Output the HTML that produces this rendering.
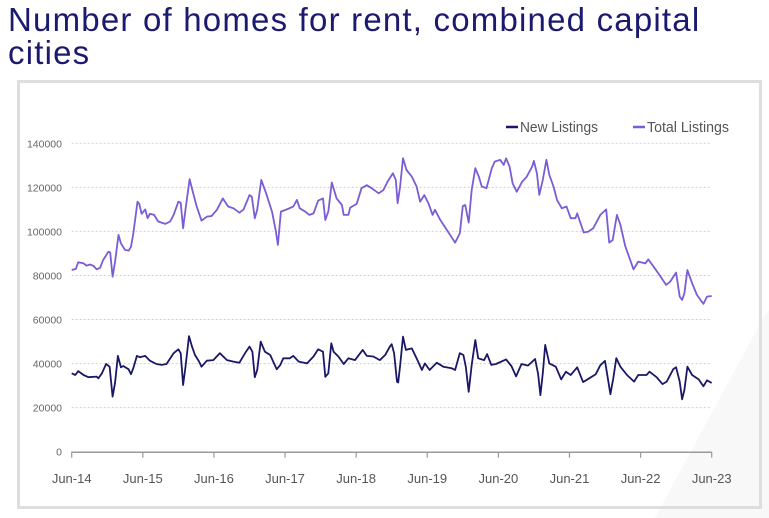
<!DOCTYPE html>
<html><head><meta charset="utf-8"><style>
body{margin:0;background:#fff;width:769px;height:518px;overflow:hidden;font-family:"Liberation Sans",sans-serif}
#title{position:absolute;left:8px;top:3px;font-size:33px;line-height:33px;color:#1c1a6e;letter-spacing:1.2px}
svg{position:absolute;left:0;top:0}
</style></head><body>
<svg id="chart" width="769" height="518">
<polygon points="763,318 769,310 769,518 655,518" fill="#f8f8f8"/>
<rect x="18.5" y="81.5" width="742" height="426" fill="none" stroke="#dedede" stroke-width="3"/>
<g id="grid"></g><g id="axes"></g><g id="series"></g>
<g>
<line x1="506" y1="127" x2="518" y2="127" stroke="#1a1866" stroke-width="2.5"/>
<text x="520" y="132" font-size="15" fill="#555" textLength="78" lengthAdjust="spacingAndGlyphs">New Listings</text>
<line x1="633" y1="127" x2="645" y2="127" stroke="#7b5cd6" stroke-width="2.5"/>
<text x="647" y="132" font-size="15" fill="#555" textLength="82" lengthAdjust="spacingAndGlyphs">Total Listings</text>
</g>
</svg>
<div id="title">Number of homes for rent, combined capital<br>cities</div>
<script>
const xTickLabels=["Jun-14","Jun-15","Jun-16","Jun-17","Jun-18","Jun-19","Jun-20","Jun-21","Jun-22","Jun-23"];
const yTicks=[0,20000,40000,60000,80000,100000,120000,140000];
// months since Jun-2014
const totalMonths=[0,0.7,1.1,2.0,2.5,3.1,3.7,4.2,4.8,5.3,6.2,6.5,6.9,7.3,7.9,8.3,9.0,9.6,10.0,10.4,11.1,11.4,11.8,12.4,12.8,13.2,13.9,14.6,15.8,16.6,17.2,18.0,18.4,18.8,19.2,19.9,20.5,21.1,21.9,22.8,23.6,24.5,25.5,26.4,27.3,28.3,29.0,30.0,30.4,30.9,31.3,32.0,32.8,33.8,34.4,34.8,35.3,36.3,37.4,38.0,38.5,39.4,40.1,40.8,41.6,42.4,42.8,43.3,43.9,44.7,45.6,45.9,46.7,47.0,48.1,48.9,49.8,50.6,51.8,52.6,53.4,54.2,54.7,55.0,55.4,55.9,56.5,57.4,58.2,58.8,59.5,60.2,60.9,61.3,62.2,63.3,64.7,65.5,66.0,66.4,67.0,67.5,68.1,68.7,69.2,70.0,70.9,71.4,72.3,72.9,73.3,73.9,74.4,75.1,76.0,76.8,77.7,78.0,78.5,78.9,79.5,80.1,80.6,81.3,81.9,82.7,83.5,84.2,85.0,85.3,86.4,87.2,88.0,89.2,90.2,90.7,91.3,92.0,92.6,93.4,94.8,95.6,96.8,97.3,98.2,99.3,100.3,101.0,102.0,102.6,103.0,103.4,103.9,104.7,105.5,106.6,107.2,108.0];
const totalValues=[82.5,83,86,85.5,84.5,85,84.3,82.8,83.5,87,90.8,90.4,79.5,86,98.4,94.6,91.6,91.3,93,99,113.5,112.5,108,110,106,108,107.5,104.5,103.4,104.5,107.5,113.5,113,101.4,110,123.7,117.3,111.3,104.9,106.7,107,109.8,115,111.3,110.5,108.5,110,116.5,115.8,106,109.8,123.4,117.3,109,100.7,93.9,109,110,111.3,114.3,110.5,109,107.5,108.2,114,115,105.2,109,122.2,115,112,107.5,107.5,110.8,112.5,119.6,121,119.6,117.3,118.8,123,126.4,123.4,112.8,120,133.2,127.9,124.9,120.4,113.5,116.5,112.8,107.5,109.8,105.2,100.7,94.9,99.1,111.5,112,104,118.8,128.7,124.9,120.4,119.6,128.7,131.7,132.5,130.2,133.2,129.4,121.9,118,122.5,124.9,129.4,132,126.4,116.6,123.4,132.5,125.7,120.4,114.3,110.5,111.3,106,106,108.2,99.5,99.9,101.4,107.5,110,94.9,96.1,107.5,103,93.4,82.8,86.3,85.5,87.3,84,79.8,75.7,77.2,81.3,70.4,68.9,71.9,82.5,76.5,71.2,67.1,70.4,70.7];
const newMonths=[0,0.6,1.1,2.0,2.8,4.2,4.5,5.1,5.8,6.4,6.9,7.3,7.8,8.3,8.7,9.6,10.0,10.4,11.0,11.5,12.4,13.2,14.3,15.2,16.0,17.2,18.0,18.4,18.8,19.2,19.8,20.3,20.8,21.5,21.9,22.8,23.9,25.0,26.2,27.3,28.3,29.3,30.0,30.5,30.9,31.3,31.9,32.6,33.5,34.6,35.2,35.7,36.8,37.4,38.3,39.7,40.8,41.6,42.4,42.8,43.3,43.8,44.2,45.0,45.9,46.7,47.8,49.1,49.8,50.9,52.0,52.9,53.7,54.0,54.4,54.9,55.1,55.4,55.9,56.4,57.4,58.2,59.1,59.6,60.4,61.6,62.7,64.1,64.7,65.5,66.1,66.5,67.0,67.5,68.1,68.6,69.6,70.1,70.8,71.6,73.3,74.2,75.0,75.9,77.0,78.2,78.7,79.1,79.5,79.9,80.6,81.7,82.6,83.4,84.2,85.3,86.3,87.2,88.4,89.2,90.0,90.9,91.4,91.9,92.6,93.7,94.9,95.6,97.0,97.5,98.7,99.7,100.4,101.5,102.0,102.6,103.0,103.4,103.9,104.7,105.8,106.6,107.2,108.0];
const newValues=[35.6,34.8,36.6,34.8,33.8,34.1,33.3,35.6,39.8,38.6,25,31.1,43.5,38.3,38.9,37.4,35.2,37.9,43.5,42.9,43.5,41.3,39.8,39.4,39.8,44.7,46.5,44.7,30.3,38.6,52.5,47.7,43.9,40.9,38.6,41.3,41.6,44.7,41.6,40.9,40.4,44.9,47.7,45.4,33.8,37.1,50,45.4,43.9,37.4,39.4,42.4,42.4,43.5,40.9,40.1,43.2,46.5,45.4,34,35.6,49.2,45.4,43.2,39.8,42.4,41.6,46.2,43.5,43.2,41.6,43.9,47.7,48.8,44.7,31.8,31.4,38.6,52.2,46.2,46.9,42.4,37.1,40.1,37.1,40.4,38.6,37.9,37.1,44.7,43.9,38.6,27.2,39.4,50.7,42.4,41.6,44.3,39.4,39.8,41.9,38.9,34.2,39.8,39.1,42.1,35.3,25.7,35.6,48.5,40.1,38.6,32.8,36.3,34.8,38.3,31.6,33.1,35.1,39.2,41.2,26.1,33.3,42.5,38.6,34.8,31.8,34.8,34.8,36.3,33.8,30.7,31.8,37.4,38.3,31.8,23.8,28,38.6,34.8,32.8,29.7,32.4,31.2];

const X0=71.7,X1=711.7,Y0=451.7,Y140=143.3;
const xScale=m=>X0+m*(X1-X0)/108;
const yScale=v=>Y0-v*(Y0-Y140)/140000;
const NS="http://www.w3.org/2000/svg";
function mk(tag,attrs,parent){const e=document.createElementNS(NS,tag);for(const k in attrs)e.setAttribute(k,attrs[k]);parent.appendChild(e);return e;}
const grid=document.getElementById('grid'),axes=document.getElementById('axes'),ser=document.getElementById('series');
yTicks.forEach(v=>{
  const y=yScale(v);
  if(v>0){const l=mk('line',{x1:X0,x2:X1,y1:y,y2:y,stroke:'#cfcfcf','stroke-dasharray':'2,2','stroke-width':1},grid);
  
  }
  const t=mk('text',{x:62,y:y+4,'font-size':10.5,fill:'#666','text-anchor':'end'},axes);
  t.textContent=v;
  
  
});
const ax=mk('line',{x1:X0,x2:X1,y1:Y0+0.5,y2:Y0+0.5,stroke:'#999','stroke-width':1.5},axes);


xTickLabels.forEach((lab,i)=>{
  const x=xScale(i*12);
  const tk=mk('line',{x1:x,x2:x,y1:Y0,y2:Y0+6,stroke:'#999','stroke-width':1.2},axes);
  
  
  const t=mk('text',{x:x,y:483,'font-size':13,fill:'#555','text-anchor':'middle'},axes);
  t.textContent=lab;
  
  
});
function line(ms,vs,color,name){
  const d=ms.map((m,i)=>(i?'L':'M')+xScale(m).toFixed(1)+','+yScale(vs[i]*1000).toFixed(1)).join('');
  const p=mk('path',{d:d,fill:'none',stroke:color,'stroke-width':1.8,'stroke-linejoin':'round'},ser);
  
  
}
line(totalMonths,totalValues,'#7b5cd6','total-listings-line');
line(newMonths,newValues,'#1a1866','new-listings-line');
</script>
</body></html>
